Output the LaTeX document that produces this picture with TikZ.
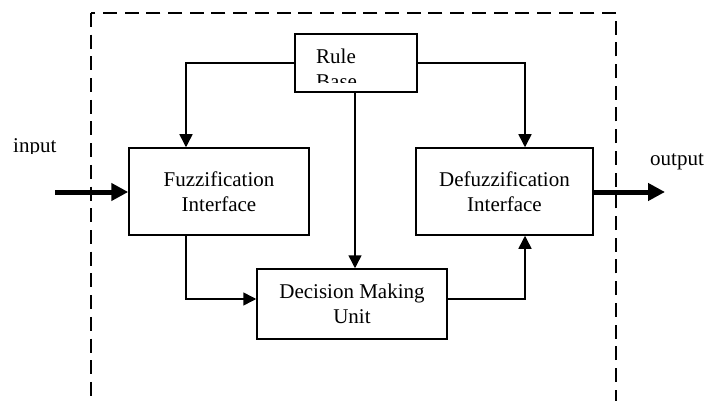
\documentclass[tikz,border=0pt]{standalone}
\usepackage{fontspec}
\setmainfont{Liberation Serif}
\usetikzlibrary{arrows.meta}

\tikzset{
	unit/.style={draw, line width=1.5pt, inner sep=0pt},
	thin arrow/.style={line width=1.5pt, -{Triangle[length=13pt,width=13pt]}},
	thick arrow/.style={line width=5pt, -{Triangle[length=17pt,width=17pt]}},
	frame/.style={line width=1.8pt, dash pattern=on 14pt off 7.7pt},
}

\begin{document}
\begin{tikzpicture}[x=1pt, y=-1pt, font=\fontsize{21}{25}\selectfont]
\useasboundingbox (0,0) rectangle (704,401);
\draw[frame] (91,13) rectangle (616,401.5);

% блоки
\node[unit, minimum width=122pt, minimum height=58pt] (rule) at (356,63) {};
\node[unit, minimum width=180pt, minimum height=87pt, align=center] (fuzz) at (219,191.5)
	{Fuzzification\\Interface};
\node[unit, minimum width=177pt, minimum height=87pt, align=center] (defuzz) at (504.5,191.5)
	{Defuzzification\\Interface};
\node[unit, minimum width=190pt, minimum height=70pt, align=center] (decision) at (352,304)
	{Decision Making\\Unit};

% текст базы правил обрезан рамкой
\begin{scope}
	\clip (rule.north west) rectangle ([yshift=10pt]rule.south east);
	\node[anchor=base west, inner sep=0pt] (rule1) at (316,64) {Rule};
	\node[anchor=base west, inner sep=0pt] (rule2) at (316,89) {Base};
\end{scope}

\coordinate (in) at (55,192);
\coordinate (out) at (665,192);
\begin{scope}
	\clip (0,120) rectangle (80,153.5);
	\node[anchor=base west, inner sep=0pt] (inlabel) at (13,153) {input};
\end{scope}
\node (outlabel) at (677,162) {output};

% связи
\draw[thin arrow] (rule.west) -| ([xshift=-33pt]fuzz.north);
\draw[thin arrow] (rule.east) -| ([xshift=20.5pt]defuzz.north);
\draw[thin arrow] ([xshift=-1pt]rule.south) -- ([xshift=-1pt]rule.south |- decision.north);
\draw[thin arrow] ([xshift=-33pt]fuzz.south) |- ([yshift=5pt]decision.west);
\draw[thin arrow] ([yshift=5pt]decision.east) -| ([xshift=20.5pt]defuzz.south);
\draw[thick arrow] (in) -- (fuzz.west |- in);
\draw[thick arrow] (defuzz.east |- out) -- (out);
\end{tikzpicture}
\end{document}
